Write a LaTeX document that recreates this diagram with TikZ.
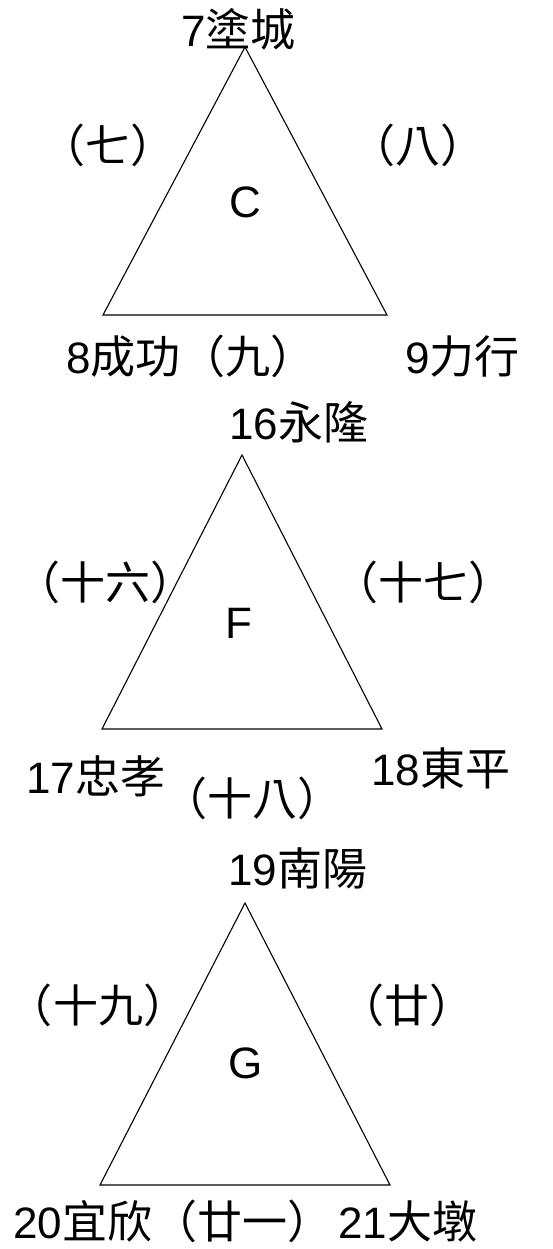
\documentclass[tikz,border=0pt]{standalone}
\usepackage{fontspec}
\setmainfont{Liberation Sans}
\newfontfamily\cjk{Noto Sans CJK TC}

\newcommand{\zh}[1]{{\cjk\fontsize{45}{54}\selectfont #1}}

\tikzset{
  lbl/.style={font=\fontsize{44}{52}\selectfont, inner sep=0pt},
  tri/.style={line width=1.1pt, line join=miter}
}

\begin{document}
\begin{tikzpicture}[x=1pt, y=-1pt]

  \useasboundingbox (0,0) rectangle (553,1249);

  % Triangle corners
  \coordinate (Ctop) at (245,47);
  \coordinate (Cleft) at (103,315);
  \coordinate (Cright) at (387,315);
  \coordinate (Ftop) at (242,455);
  \coordinate (Fleft) at (102,729);
  \coordinate (Fright) at (382,729);
  \coordinate (Gtop) at (245,903);
  \coordinate (Gleft) at (100,1185);
  \coordinate (Gright) at (390,1185);

  % Triangles
  \foreach \t in {C, F, G} {
    \draw[tri] (\t top) -- (\t left) -- (\t right) -- cycle;
  }

  % Triangle C
  \node[lbl] (Cname) at (245,202) {C};
  \node[lbl, anchor=base west] (C7) at (181,47) {7\zh{塗城}};
  \node[lbl, anchor=base west] (C8) at (66,373) {8\zh{成功（九）}};
  \node[lbl, anchor=base west] (C9) at (405,373) {9\zh{力行}};
  \node[lbl] (Cleftside) at (108,145) {\zh{（七）}};
  \node[lbl] (Crightside) at (418,145) {\zh{（八）}};

  % Triangle F
  \node[lbl] (Fname) at (239,623) {F};
  \node[lbl, anchor=base west] (F16) at (229,439) {16\zh{永隆}};
  \node[lbl, anchor=base west] (F17) at (26,793) {17\zh{忠孝}};
  \node[lbl, anchor=base west] (F18) at (371,785) {18\zh{東平}};
  \node[lbl] (Fleftside) at (105,582) {\zh{（十六）}};
  \node[lbl] (Frightside) at (423,582) {\zh{（十七）}};
  \node[lbl] (Fbottom) at (252,798) {\zh{（十八）}};

  % Triangle G
  \node[lbl] (Gname) at (246,1063) {G};
  \node[lbl, anchor=base west] (G19) at (228,885) {19\zh{南陽}};
  \node[lbl, anchor=base west] (G20) at (13,1238) {20\zh{宜欣（廿一）}};
  \node[lbl, anchor=base west] (G21) at (338,1238) {21\zh{大墩}};
  \node[lbl] (Gleftside) at (98,1005) {\zh{（十九）}};
  \node[lbl] (Grightside) at (407,1005) {\zh{（廿）}};

\end{tikzpicture}
\end{document}
